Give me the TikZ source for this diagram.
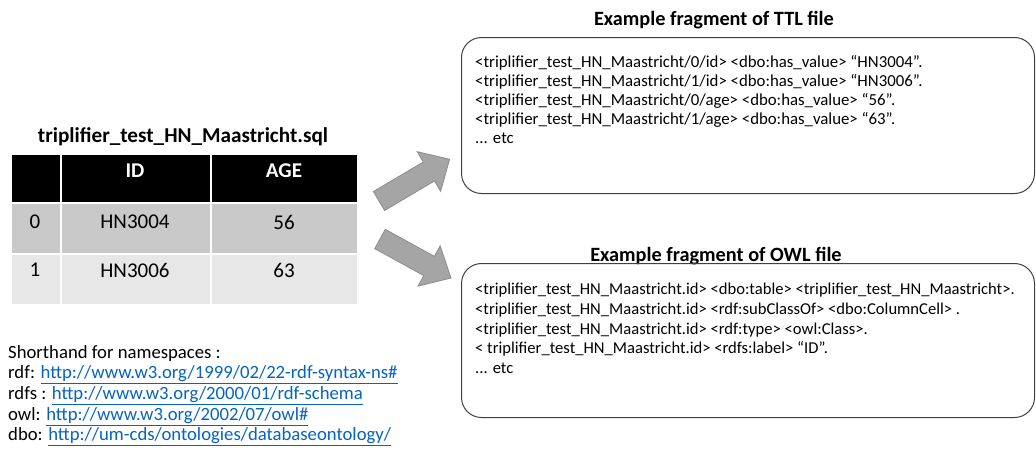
\documentclass[tikz,border=0pt]{standalone}
\usepackage{fontspec}
\setmainfont{Carlito}
\definecolor{linkblue}{HTML}{0563C1}
\definecolor{rowA}{HTML}{C9C9C9}
\definecolor{rowB}{HTML}{E7E7E7}
\definecolor{arrowfill}{HTML}{A5A5A5}
\definecolor{arrowline}{HTML}{8C8C8C}
\definecolor{boxline}{HTML}{404040}
\newcommand{\lnk}[1]{{\color{linkblue}\underline{#1}}}
\begin{document}
\begin{tikzpicture}[x=1pt,y=-1pt,
  cell/.style={draw=white, line width=1.5pt, anchor=north west, inner sep=0pt},
  celltext/.style={font=\fontsize{21}{25}\selectfont, inner sep=0pt},
  headtext/.style={font=\bfseries\fontsize{21}{25}\selectfont, text=white, inner sep=0pt},
  heading/.style={font=\bfseries\fontsize{20.3}{24}\selectfont, inner sep=0pt},
  fragbox/.style={draw=boxline, line width=1pt, rounded corners=20pt, anchor=north west, inner sep=0pt},
  fragtext/.style={anchor=north west, align=left, inner sep=0pt},
  blockarrow/.style={fill=arrowfill, draw=arrowline, line width=0.8pt, line join=miter}]
\useasboundingbox (0,0) rectangle (1036,455);

% table title
\node[font=\bfseries\fontsize{21.2}{25}\selectfont, inner sep=0pt] (sqltitle) at (183,137) {triplifier\_test\_HN\_Maastricht.sql};

% table cells
\node[cell, fill=black, minimum width=50pt, minimum height=49pt] (h0) at (10,153) {};
\node[cell, fill=black, minimum width=150pt, minimum height=49pt] (h1) at (60,153) {};
\node[cell, fill=black, minimum width=147pt, minimum height=49pt] (h2) at (210,153) {};
\node[cell, fill=rowA, minimum width=50pt, minimum height=51pt] (a0) at (10,202) {};
\node[cell, fill=rowA, minimum width=150pt, minimum height=51pt] (a1) at (60,202) {};
\node[cell, fill=rowA, minimum width=147pt, minimum height=51pt] (a2) at (210,202) {};
\node[cell, fill=rowB, minimum width=50pt, minimum height=51pt] (b0) at (10,253) {};
\node[cell, fill=rowB, minimum width=150pt, minimum height=51pt] (b1) at (60,253) {};
\node[cell, fill=rowB, minimum width=147pt, minimum height=51pt] (b2) at (210,253) {};

\node[headtext] (tID) at (135,171) {ID};
\node[headtext] (tAGE) at (284,171) {AGE};
\node[celltext] (t00) at (35,222) {0};
\node[celltext] (t01) at (135,222) {HN3004};
\node[celltext] (t02) at (284,222) {56};
\node[celltext] (t10) at (35,270) {1};
\node[celltext] (t11) at (135,270) {HN3006};
\node[celltext] (t12) at (284,270) {63};

% namespaces
\node[fragtext, font=\fontsize{18.7}{20.7}\selectfont] (ns) at (8,345) {Shorthand for namespaces :\\
rdf: \lnk{http://www.w3.org/1999/02/22-rdf-syntax-ns\#}\\
rdfs : \lnk{http://www.w3.org/2000/01/rdf-schema}\\
owl: \lnk{http://www.w3.org/2002/07/owl\#}\\
dbo: \lnk{http://um-cds/ontologies/databaseontology/}};

% arrows
\draw[blockarrow, shift={(379,201)}, rotate=30.6] (0,-11) -- (58,-11) -- (58,-23) -- (82,0) -- (58,23) -- (58,11) -- (0,11) -- cycle;
\draw[blockarrow, shift={(380,239)}, rotate=-28.8] (0,-11) -- (56,-11) -- (56,-23) -- (81,0) -- (56,23) -- (56,11) -- (0,11) -- cycle;

% TTL
\node[heading] (ttltitle) at (714,20) {Example fragment of TTL file};
\node[fragbox, minimum width=573pt, minimum height=156pt] (ttlbox) at (461,37) {};
\node[fragtext, font=\fontsize{16.8}{19}\selectfont] (ttltext) at (475,55) {<triplifier\_test\_HN\_Maastricht/0/id> <dbo:has\_value> “HN3004”.\\
<triplifier\_test\_HN\_Maastricht/1/id> <dbo:has\_value> “HN3006”.\\
<triplifier\_test\_HN\_Maastricht/0/age> <dbo:has\_value> “56”.\\
<triplifier\_test\_HN\_Maastricht/1/age> <dbo:has\_value> “63”.\\
... etc};

% OWL
\node[heading] (owltitle) at (716,256) {Example fragment of OWL file};
\node[fragbox, minimum width=573pt, minimum height=154pt] (owlbox) at (461,263) {};
\node[fragtext, font=\fontsize{16.6}{19.7}\selectfont] (owltext) at (475,283) {<triplifier\_test\_HN\_Maastricht.id> <dbo:table> <triplifier\_test\_HN\_Maastricht>.\\
<triplifier\_test\_HN\_Maastricht.id> <rdf:subClassOf> <dbo:ColumnCell> .\\
<triplifier\_test\_HN\_Maastricht.id> <rdf:type> <owl:Class>.\\
< triplifier\_test\_HN\_Maastricht.id> <rdfs:label> “ID”.\\
... etc};
\end{tikzpicture}
\end{document}
